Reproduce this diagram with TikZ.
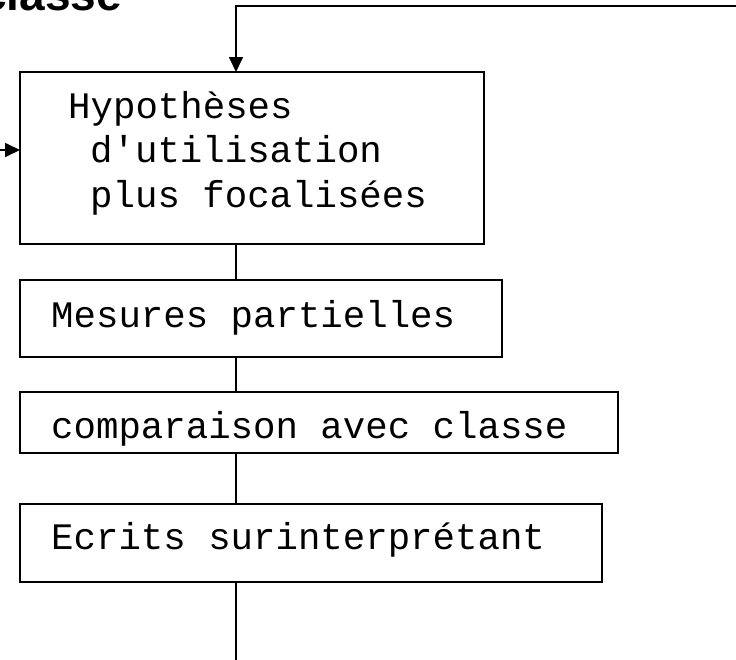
\documentclass[tikz,border=0pt]{standalone}
\usepackage{fontspec}
\setmonofont{Liberation Mono}
\newfontfamily\titlefont{Liberation Sans}
\usetikzlibrary{arrows.meta}
\tikzset{
  boxnode/.style={draw=black, line width=2pt, minimum width=#1, inner sep=0pt, outer sep=0pt},
  txt/.style={anchor=base west, inner sep=0pt, font=\ttfamily\fontsize{37.4}{45}\selectfont},
  conn/.style={draw=black, line width=1.7pt},
  tip/.style={-{Triangle[width=14pt,length=15pt]}}
}
\begin{document}
\begin{tikzpicture}[x=1pt,y=-1pt]
\useasboundingbox (0,0) rectangle (736,659);
\clip (0,0) rectangle (736,659);
\fill[white] (0,0) rectangle (736,659);
% title fragment
\node[anchor=base west, inner sep=0pt, font=\titlefont\bfseries\fontsize{46}{50}\selectfont] (title) at (-19,10.5) {classe};
% boxes
\node[boxnode=464pt, minimum height=172pt] (hyp) at (252,158) {};
\node[boxnode=482pt, minimum height=77pt] (mes) at (261,318.5) {};
\node[boxnode=598pt, minimum height=61pt] (comp) at (319,422.5) {};
\node[boxnode=582pt, minimum height=78pt] (ecr) at (311,543) {};
% texts
\node[txt] (t1) at (68,118) {Hypothèses};
\node[txt] (t2) at (90,162) {d'utilisation};
\node[txt] (t3) at (90,207) {plus focalisées};
\node[txt] (t4) at (51,327) {Mesures partielles};
\node[txt] (t5) at (51,438) {comparaison avec classe};
\node[txt] (t6) at (51,549) {Ecrits surinterprétant};
% coordinates
\coordinate (spine) at (236,0);
\coordinate (loopstart) at (737,6);
\coordinate (leftin) at (-1,150);
\coordinate (bottomend) at (236,660);
% connectors
\draw[conn] (hyp.south -| spine) -- (mes.north -| spine);
\draw[conn] (mes.south -| spine) -- (comp.north -| spine);
\draw[conn] (comp.south -| spine) -- (ecr.north -| spine);
\draw[conn] (ecr.south -| spine) -- (bottomend);
\draw[conn, tip] (loopstart) -| (hyp.north -| spine);
\draw[conn, tip] (leftin) -- (leftin -| hyp.west);
\end{tikzpicture}
\end{document}
